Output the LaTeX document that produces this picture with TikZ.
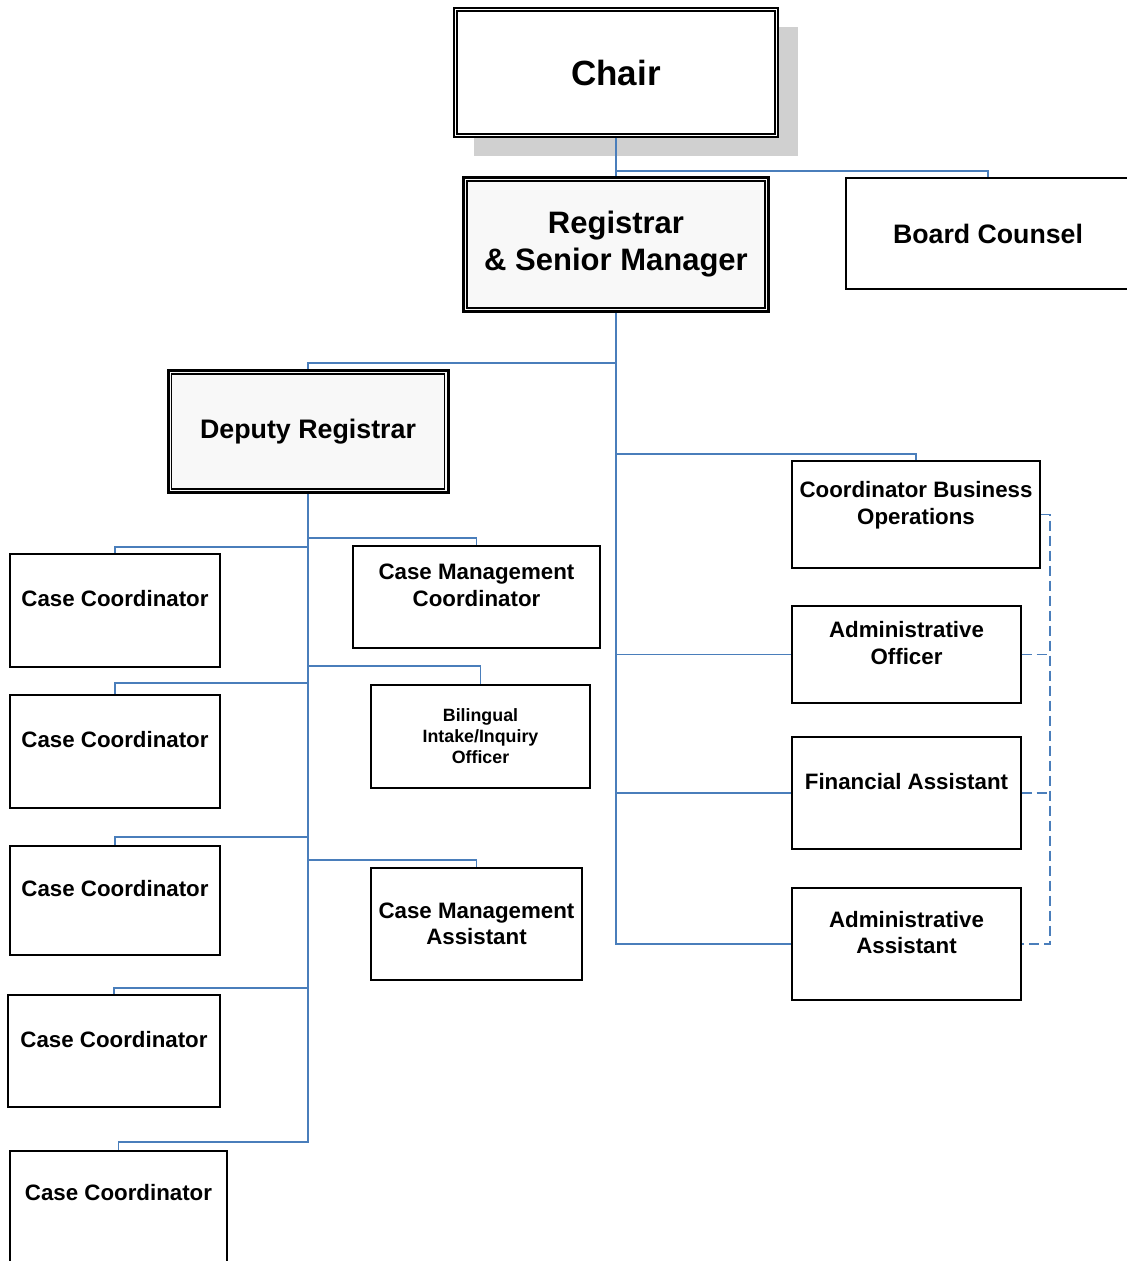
\documentclass[tikz,border=0pt]{standalone}
\usepackage{fontspec}
\setmainfont{Liberation Sans}
\usetikzlibrary{shadows}
\definecolor{linkblue}{RGB}{74,126,187}
\definecolor{paper}{RGB}{248,248,248}
\definecolor{shade}{RGB}{208,208,208}
\newcommand{\lift}{\\[-3pt]\mbox{}}

\begin{document}
\begin{tikzpicture}[x=1pt,y=-1pt,
	box/.style={draw, line width=1.2pt, fill=white, align=center, inner sep=2pt,
		font=\bfseries\fontsize{22.3}{26.5}\selectfont},
	heavy/.style={box, line width=2.2pt},
	inner line/.style={line width=#1},
	link/.style={draw=linkblue, line width=1.5pt},
	dotlink/.style={link, line width=1.7pt, dash pattern=on 10pt off 5pt}]
	\useasboundingbox (0,0) rectangle (1127,1261);
	\clip (0,0) rectangle (1127,1261);

	\node[box, line width=1.8pt, minimum width=324, minimum height=129,
		drop shadow={shadow xshift=20pt, shadow yshift=-19pt, fill=shade, opacity=1},
		font=\bfseries\fontsize{35}{40}\selectfont] (chair) at (616,72.5) {Chair};
	\draw[inner line=1.3pt] ([shift={(4,4)}]chair.north west) rectangle ([shift={(-4,-4)}]chair.south east);
	\node[box, fill=paper, line width=3pt, minimum width=305, minimum height=134,
		font=\bfseries\fontsize{31}{37}\selectfont] (reg) at (616,244.5) {Registrar\\\& Senior Manager};
	\draw[inner line=1.4pt] ([shift={(5,5)}]reg.north west) rectangle ([shift={(-5,-5)}]reg.south east);
	\node[heavy, minimum width=284, minimum height=111,
		font=\bfseries\fontsize{26.7}{32}\selectfont] (bc) at (988,233.5) {Board Counsel};
	\node[box, fill=paper, line width=3pt, minimum width=280, minimum height=122,
		font=\bfseries\fontsize{26.8}{32}\selectfont] (dep) at (308,431.5) {Deputy Registrar};
	\draw[inner line=1.8pt] ([shift={(5,5)}]dep.north west) rectangle ([shift={(-5,-5)}]dep.south east);

	\node[heavy, minimum width=248, minimum height=107] (cbo) at (916,514.5) {Coordinator Business\\Operations\lift};
	\node[box, minimum width=229, minimum height=97] (ao) at (906.5,654.5) {Administrative\\Officer\lift};
	\node[box, minimum width=229, minimum height=112] (fa) at (906.5,793) {Financial Assistant\lift};
	\node[box, minimum width=229, minimum height=112] (aa) at (906.5,944) {Administrative\\Assistant\lift};

	\node[box, minimum width=210, minimum height=113] (cc1) at (115,610.5) {Case Coordinator\lift};
	\node[box, minimum width=210, minimum height=113] (cc2) at (115,751.5) {Case Coordinator\lift};
	\node[box, minimum width=210, minimum height=109] (cc3) at (115,900.5) {Case Coordinator\lift};
	\node[box, minimum width=212, minimum height=112] (cc4) at (114,1051) {Case Coordinator\lift};
	\node[box, minimum width=217, minimum height=130] (cc5) at (118.5,1216) {Case Coordinator\lift\lift};

	\node[box, minimum width=247, minimum height=102] (cmc) at (476.5,597) {Case Management\\Coordinator\lift};
	\node[box, minimum width=219, minimum height=103,
		font=\bfseries\fontsize{17.8}{21}\selectfont] (bil) at (480.5,736.5) {Bilingual\\Intake/Inquiry\\Officer};
	\node[box, minimum width=211, minimum height=112] (cma) at (476.5,924) {Case Management\\Assistant};

	\draw[link] (chair) -- (reg);
	\draw[link] (chair.south) -- ++(0,33) -| (bc.north);
	\draw[link] (reg.south) -- ++(0,50) -| (dep.north);
	\draw[link] (reg.south) -- ++(0,141) -| (cbo.north);
	\draw[link] (reg.south) |- (ao.west);
	\draw[link] (reg.south) |- (fa.west);
	\draw[link] (reg.south) |- (aa.west);

	\draw[dotlink] (cbo.east) -- ++(9,0) |- (aa.east);
	\draw[dotlink] (ao.east) -- ++(28,0);
	\draw[dotlink] (fa.east) -- ++(28,0);

	\draw[link] (dep.south) -- ++(0,53) -| (cc1.north);
	\draw[link] (dep.south) -- ++(0,189) -| (cc2.north);
	\draw[link] (dep.south) -- ++(0,343) -| (cc3.north);
	\draw[link] (dep.south) -- ++(0,494) -| (cc4.north);
	\draw[link] (dep.south) -- ++(0,648) -| (cc5.north);
	\draw[link] (dep.south) -- ++(0,44) -| (cmc.north);
	\draw[link] (dep.south) -- ++(0,172) -| (bil.north);
	\draw[link] (dep.south) -- ++(0,366) -| (cma.north);
\end{tikzpicture}
\end{document}
